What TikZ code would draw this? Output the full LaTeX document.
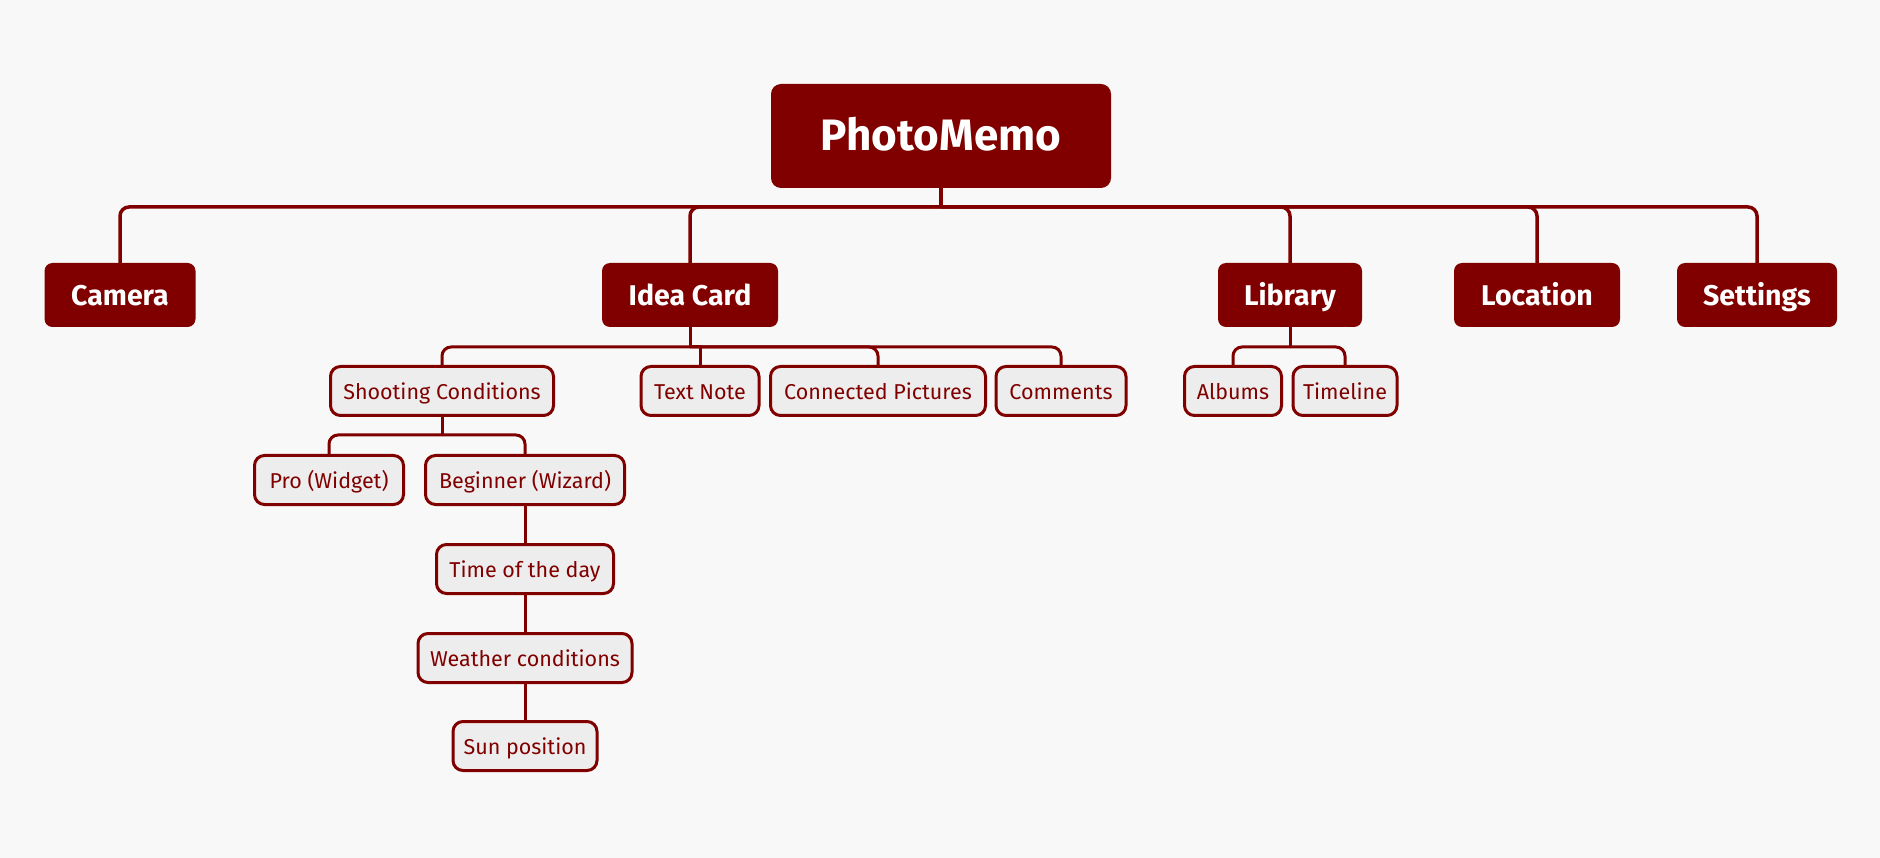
\documentclass[tikz,border=0pt]{standalone}
\usepackage{fontspec}
\setmainfont{Fira Sans}
\definecolor{memored}{HTML}{800000}
\definecolor{memogray}{HTML}{EEEDED}
\definecolor{memobg}{HTML}{F8F8F8}
\tikzset{
  rootbox/.style={fill=memored, text=white, rounded corners=10pt, font=\bfseries\fontsize{44}{50}\selectfont, minimum height=104pt, inner xsep=4pt, text height=38pt, text depth=8pt},
  topbox/.style={fill=memored, text=white, rounded corners=8pt, font=\bfseries\fontsize{28.5}{32}\selectfont, minimum height=64pt, inner xsep=4pt, text height=27pt, text depth=5.5pt},
  subbox/.style={fill=memogray, draw=memored, line width=3pt, text=memored, rounded corners=10pt, font=\fontsize{21.5}{24}\selectfont, minimum height=49pt, inner xsep=4pt, inner ysep=1pt, text height=22pt, text depth=4.2pt},
  link/.style={draw=memored, line width=3.5pt, rounded corners=9pt},
  sublink/.style={draw=memored, line width=3pt, rounded corners=9pt},
}
\begin{document}
\begin{tikzpicture}[x=1pt,y=-1pt]
    \fill[memobg] (0,0) rectangle (1880,858);

    % root and first level
    \node[rootbox, minimum width=340pt] (memo) at (941,136) {PhotoMemo};
    \node[topbox, minimum width=151pt] (camera) at (120,295) {Camera};
    \node[topbox, minimum width=176pt] (idea) at (690,295) {Idea Card};
    \node[topbox, minimum width=144pt] (library) at (1290,295) {Library};
    \node[topbox, minimum width=166pt] (location) at (1537,295) {Location};
    \node[topbox, minimum width=160pt] (settings) at (1757,295) {Settings};

    \coordinate (topbus) at (941,207);
    \draw[link] (memo.south) -- (topbus);
    \foreach \n in {camera,idea,library,location,settings}
        \draw[link] (topbus) -| (\n.north);

    % idea card
    \node[subbox, minimum width=223pt] (shoot) at (442,391) {Shooting Conditions};
    \node[subbox, minimum width=118pt] (textnote) at (700,391) {Text Note};
    \node[subbox, minimum width=215pt] (connected) at (878,391) {Connected Pictures};
    \node[subbox, minimum width=130pt] (comments) at (1061,391) {Comments};

    \coordinate (ideabus) at (690,347);
    \draw[sublink] (idea.south) -- (ideabus);
    \draw[sublink] (ideabus) -| (shoot.north);
    \draw[sublink, rounded corners=0pt] (ideabus) -| (textnote.north);
    \draw[sublink] (ideabus) -| (connected.north);
    \draw[sublink] (ideabus) -| (comments.north);

    % library
    \node[subbox, minimum width=97pt] (albums) at (1233,391) {Albums};
    \node[subbox, minimum width=104pt] (timeline) at (1345,391) {Timeline};

    \coordinate (libbus) at (1290,347);
    \draw[sublink] (library.south) -- (libbus);
    \draw[sublink] (libbus) -| (albums.north);
    \draw[sublink] (libbus) -| (timeline.north);

    % shooting conditions
    \node[subbox, minimum width=149pt] (pro) at (329,480) {Pro (Widget)};
    \node[subbox, minimum width=199pt] (beginner) at (525,480) {Beginner (Wizard)};

    \coordinate (shootbus) at (442,435);
    \draw[sublink] (shoot.south) -- (shootbus);
    \draw[sublink] (shootbus) -| (pro.north);
    \draw[sublink] (shootbus) -| (beginner.north);

    % wizard steps
    \node[subbox, minimum width=177pt] (daytime) at (525,569) {Time of the day};
    \node[subbox, minimum width=214pt] (weather) at (525,658) {Weather conditions};
    \node[subbox, minimum width=144pt] (sun) at (525,746) {Sun position};

    \draw[sublink] (beginner.south) -- (daytime.north);
    \draw[sublink] (daytime.south) -- (weather.north);
    \draw[sublink] (weather.south) -- (sun.north);
\end{tikzpicture}
\end{document}
